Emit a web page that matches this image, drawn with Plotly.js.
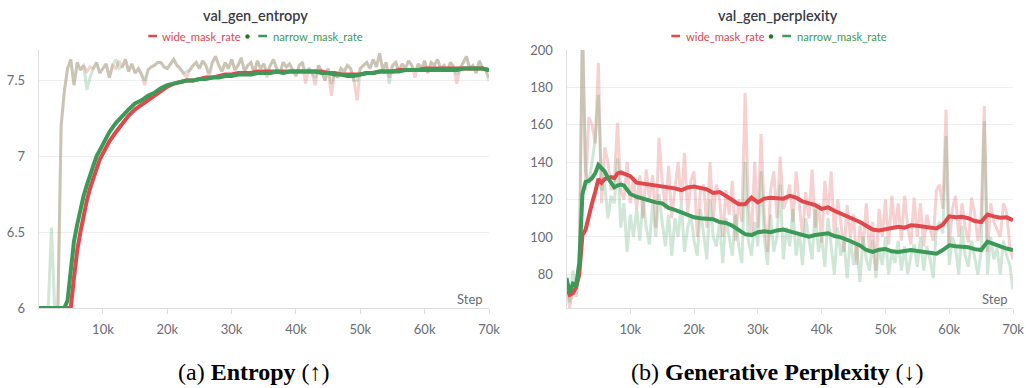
<!DOCTYPE html>
<html>
<head>
<meta charset="utf-8">
<script src="https://cdn.plot.ly/plotly-3.0.1.min.js"></script>
<style>html,body{margin:0;padding:0;background:#fff;}#chart{width:1026px;height:388px;}</style>
</head>
<body>
<div id="chart"></div>
<script>
// ---------- data ----------
// raw evaluation steps: every 500 steps from 0 to 70k
const rawSteps = Array.from({length: 141}, (_, i) => i * 500);
// smoothed curve steps
const smoothSteps = [0,500,1000,1500,2000,2500,3000,3500,4000,4500,5000,5500,6000,6500,7000,7500,8000,8500,9000,9500,10000,
  11000,12000,13000,14000,15000,16000,17000,18000,19000,20000,21000,22000,23000,24000,25000,26000,27000,28000,29000,30000,
  31000,32000,33000,34000,35000,36000,37000,38000,39000,40000,41000,42000,43000,44000,45000,46000,47000,48000,49000,50000,
  51000,52000,53000,54000,55000,56000,57000,58000,59000,60000,61000,62000,63000,64000,65000,66000,67000,68000,69000,70000];

const xTickVals = [10000,20000,30000,40000,50000,60000,70000];
const xTickText = ['10k','20k','30k','40k','50k','60k','70k'];
const entTickVals = [6, 6.5, 7, 7.5];
const entTickText = ['6','6.5','7','7.5'];
const pplTickVals = [80,100,120,140,160,180,200];
const pplTickText = ['80','100','120','140','160','180','200'];

// entropy raw
const entWideRaw = [6,6,6,6,6,6,6,7.2,7.43,7.58,
  7.64,7.47,7.62,7.57,7.60,7.56,7.59,7.58,7.62,7.55,
  7.58,7.61,7.52,7.60,7.58,7.63,7.59,7.64,7.56,7.61,
  7.55,7.58,7.54,7.47,7.57,7.59,7.60,7.62,7.62,7.59,
  7.58,7.61,7.64,7.60,7.58,7.55,7.52,7.57,7.60,7.62,
  7.58,7.63,7.60,7.52,7.62,7.66,7.60,7.56,7.62,7.58,
  7.64,7.57,7.60,7.65,7.56,7.60,7.62,7.55,7.63,7.58,
  7.61,7.52,7.60,7.64,7.58,7.55,7.62,7.59,7.61,7.57,
  7.53,7.60,7.62,7.48,7.58,7.55,7.47,7.60,7.56,7.50,
  7.58,7.40,7.55,7.52,7.58,7.56,7.60,7.58,7.50,7.37,
  7.58,7.60,7.62,7.58,7.64,7.59,7.68,7.57,7.62,7.52,
  7.60,7.62,7.56,7.61,7.58,7.63,7.60,7.52,7.61,7.58,
  7.63,7.55,7.62,7.60,7.64,7.58,7.60,7.56,7.62,7.59,
  7.48,7.58,7.62,7.66,7.58,7.60,7.55,7.63,7.58,7.57,
  7.52];
const entNarrowRaw = [6,6,6,6,6.53,6,6,7.2,7.43,7.58,
  7.64,7.47,7.62,7.57,7.60,7.44,7.52,7.58,7.62,7.55,
  7.58,7.61,7.52,7.60,7.64,7.58,7.59,7.64,7.56,7.61,
  7.55,7.58,7.54,7.50,7.57,7.59,7.60,7.62,7.62,7.59,
  7.58,7.61,7.64,7.60,7.58,7.55,7.56,7.57,7.60,7.62,
  7.58,7.63,7.60,7.55,7.62,7.66,7.60,7.56,7.62,7.58,
  7.64,7.57,7.60,7.65,7.56,7.60,7.62,7.55,7.63,7.58,
  7.61,7.56,7.60,7.64,7.58,7.55,7.62,7.59,7.61,7.57,
  7.53,7.60,7.62,7.56,7.58,7.55,7.52,7.60,7.56,7.50,
  7.58,7.48,7.55,7.52,7.58,7.56,7.60,7.58,7.50,7.50,
  7.58,7.60,7.62,7.58,7.64,7.59,7.68,7.57,7.62,7.48,
  7.60,7.62,7.56,7.61,7.58,7.63,7.60,7.56,7.61,7.58,
  7.63,7.55,7.62,7.60,7.64,7.58,7.60,7.56,7.62,7.59,
  7.54,7.58,7.62,7.66,7.58,7.60,7.55,7.63,7.58,7.57,
  7.50];

// entropy smoothed
const entWideSmooth = [6,6,6,6,6,6,6,6,6,6,6,6.2,6.38,6.50,6.61,6.71,6.79,6.86,6.92,6.98,7.02,
  7.10,7.16,7.22,7.27,7.31,7.34,7.37,7.40,7.43,7.46,
  7.48,7.49,7.50,7.50,7.51,7.52,7.52,7.53,7.54,7.54,
  7.55,7.55,7.55,7.56,7.56,7.56,7.56,7.56,7.56,7.56,
  7.56,7.56,7.56,7.56,7.55,7.55,7.54,7.54,7.54,7.54,
  7.55,7.55,7.56,7.56,7.56,7.57,7.57,7.57,7.57,7.58,
  7.58,7.58,7.58,7.58,7.58,7.58,7.58,7.58,7.58,7.57];
const entNarrowSmooth = [6,6,6,6,6,6,6,6,6,6.05,6.28,6.44,6.55,6.65,6.74,6.81,6.88,6.94,7.00,7.04,7.08,
  7.16,7.22,7.27,7.31,7.35,7.37,7.40,7.42,7.45,7.47,
  7.48,7.49,7.50,7.50,7.51,7.51,7.52,7.52,7.53,7.53,
  7.54,7.54,7.54,7.55,7.55,7.55,7.56,7.55,7.56,7.56,
  7.56,7.56,7.56,7.55,7.55,7.54,7.54,7.53,7.53,7.54,
  7.55,7.55,7.56,7.56,7.56,7.56,7.57,7.57,7.57,7.57,
  7.57,7.57,7.57,7.57,7.57,7.58,7.58,7.58,7.58,7.57];

// perplexity raw
const pplWideRaw = [75,62,72,68,85,215,125,164,160,150,
  193,118,148,140,125,130,161,125,120,140,
  118,132,115,133,110,136,120,133,105,153,
  130,115,138,110,126,140,118,145,112,130,
  135,100,125,128,105,140,110,128,120,100,
  125,112,130,98,120,108,177,118,100,140,
  105,155,112,92,125,135,110,143,115,120,
  128,108,135,118,100,124,110,136,105,118,
  97,130,112,135,100,120,108,92,117,100,
  112,85,106,95,118,92,108,82,115,100,
  120,96,122,104,118,98,122,105,96,121,
  100,118,95,112,104,98,125,128,115,168,
  95,115,122,100,118,105,97,121,112,98,
  110,170,92,118,108,104,100,118,113,95,
  88];
const pplNarrowRaw = [79,65,82,72,82,215,135,128,140,152,
  176,125,128,110,122,118,142,105,118,92,
  112,100,115,98,120,105,96,118,100,123,
  108,95,112,90,110,100,118,92,105,112,
  98,90,115,102,88,120,100,95,108,86,
  110,100,90,112,95,86,140,98,90,108,
  95,135,100,85,112,92,100,128,88,105,
  95,115,90,102,85,110,98,88,115,92,
  100,84,110,95,80,105,90,98,78,100,
  85,95,76,100,88,82,98,78,94,85,
  100,80,92,86,98,82,95,80,90,96,
  84,100,82,95,88,78,105,108,102,154,
  85,100,94,80,106,90,84,98,88,80,
  92,162,80,100,88,94,80,98,90,85,
  72];

// perplexity smoothed
const pplWideSmooth = [73,69,70,73,80,101,104,112,118,124,131,129,131,131.5,132,131.5,134,134.5,133.7,133,132.5,
  129,128.5,128,128,127,126.5,126,125,126.5,127,
  126,125.5,123.5,124,122,119.5,117.5,117.5,121,118.5,
  120.5,121,121,120.5,122,121,119,118,117,115,
  115.8,114,112.5,111.5,110,108,106,104,103.5,104,
  104.5,105.5,105,106.2,106,105.5,105,104.5,106.5,111,
  110.5,110.8,110,108.5,108,112,111,110.3,110.5,109];
const pplNarrowSmooth = [78,70,75,74,86,123,129.5,130,131.5,134,138.5,136.5,135,131.5,128.5,126.5,127.5,128,127.5,125,123,
  121.5,120.5,119,118.5,118,115.5,114.5,113,111.5,110.5,
  110,109.5,109.5,108,107.5,106,103.5,101.5,101,102.5,
  103,102.5,103.5,104,103,102,101,100.2,101,101.5,
  102,100.5,99.8,98.5,97,95.5,93,92,93.2,93.5,
  92.3,92,92.5,93,92.5,92,91.5,91,93,95.5,
  95,94.8,94.5,93.5,93,97.5,96,95,93.8,93];

// ---------- style ----------
const RED = '#e0484b';
const GREEN = '#3b9a58';
const RED_RAW = 'rgba(224,72,75,0.25)';
const GREEN_RAW = 'rgba(59,154,88,0.24)';
const W = 1026, H = 388;
const px = v => v / W;
const py = v => 1 - v / H;

function rawTrace(y, color, xa, ya) {
  return {x: rawSteps, y: y, type: 'scatter', mode: 'lines', xaxis: xa, yaxis: ya,
    line: {color: color, width: 3}, hoverinfo: 'skip', showlegend: false};
}
function smoothTrace(y, color, xa, ya) {
  return {x: smoothSteps, y: y, type: 'scatter', mode: 'lines', xaxis: xa, yaxis: ya,
    line: {color: color, width: 4}, hoverinfo: 'skip', showlegend: false};
}

const data = [
  rawTrace(entWideRaw, RED_RAW, 'x', 'y'),
  rawTrace(entNarrowRaw, GREEN_RAW, 'x', 'y'),
  smoothTrace(entWideSmooth, RED, 'x', 'y'),
  smoothTrace(entNarrowSmooth, GREEN, 'x', 'y'),
  rawTrace(pplWideRaw, RED_RAW, 'x2', 'y2'),
  rawTrace(pplNarrowRaw, GREEN_RAW, 'x2', 'y2'),
  smoothTrace(pplWideSmooth, RED, 'x2', 'y2'),
  smoothTrace(pplNarrowSmooth, GREEN, 'x2', 'y2')
];

const tickFont = {family: 'Lato, "Noto Sans", sans-serif', size: 13, color: '#6b6b76'};
const xCommon = {range: [0, 70000], tickvals: xTickVals, ticktext: xTickText, showgrid: false,
  showline: true, linecolor: '#dedede', linewidth: 1, ticks: 'outside', ticklen: 5, tickcolor: '#dedede',
  tickfont: tickFont, zeroline: false, fixedrange: true, ticklabelstandoff: 4};
const yCommon = {showgrid: true, gridcolor: '#efefef', gridwidth: 1, showline: true, linecolor: '#dedede',
  linewidth: 1, ticks: '', tickfont: tickFont, zeroline: false, fixedrange: true, ticklabelstandoff: 10};

const yDom = [py(308), py(50)];
const layout = {
  width: W, height: H,
  margin: {l: 0, r: 0, t: 0, b: 0},
  paper_bgcolor: '#fff', plot_bgcolor: 'rgba(0,0,0,0)',
  showlegend: false,
  xaxis: Object.assign({}, xCommon, {domain: [px(38.6), px(489)], anchor: 'y'}),
  yaxis: Object.assign({}, yCommon, {domain: yDom, anchor: 'x', range: [6, 7.702], tickvals: entTickVals, ticktext: entTickText}),
  xaxis2: Object.assign({}, xCommon, {domain: [px(566.5), px(1013)], anchor: 'y2'}),
  yaxis2: Object.assign({}, yCommon, {domain: yDom, anchor: 'x2', range: [62, 200], tickvals: pplTickVals, ticktext: pplTickText}),
  annotations: [],
  shapes: []
};

const titleFont = {family: 'Lato, "Noto Sans", sans-serif', size: 14.5, color: '#3a3a44', weight: 600};
const legFont = c => ({family: 'Lato, "Noto Sans", sans-serif', size: 11.2, color: c});
function ann(text, x, y, xanchor, font) {
  layout.annotations.push({text: text, x: px(x), y: py(y), xref: 'paper', yref: 'paper',
    xanchor: xanchor, yanchor: 'middle', showarrow: false, font: font, borderpad: 0});
}
function dash(x0, x1, y, color) {
  layout.shapes.push({type: 'line', xref: 'paper', yref: 'paper', x0: px(x0), x1: px(x1), y0: py(y), y1: py(y),
    line: {color: color, width: 2.5}});
}
function dot(x, y, color) {
  layout.shapes.push({type: 'circle', xref: 'paper', yref: 'paper', x0: px(x - 2.2), x1: px(x + 2.2),
    y0: py(y + 2.2), y1: py(y - 2.2), fillcolor: color, line: {width: 0}});
}

// panel titles
ann('val_gen_entropy', 255.5, 16, 'center', titleFont);
ann('val_gen_perplexity', 778, 16, 'center', titleFont);
// legends
const LY = 36;
dash(148.3, 157, LY, RED); ann('wide_mask_rate', 161, LY, 'left', legFont(RED));
dot(247.5, LY + 0.5, '#1f7a1f');
dash(258.3, 267, LY, GREEN); ann('narrow_mask_rate', 272, LY, 'left', legFont(GREEN));
dash(671.3, 680, LY, RED); ann('wide_mask_rate', 684.5, LY, 'left', legFont(RED));
dot(771, LY + 0.5, '#1f7a1f');
dash(782.3, 791, LY, GREEN); ann('narrow_mask_rate', 795.5, LY, 'left', legFont(GREEN));
// step labels
ann('Step', 484, 298.5, 'right', tickFont);
ann('Step', 1009, 298.5, 'right', tickFont);
// captions
const capFont = {family: '"Liberation Serif", "Times New Roman", serif', size: 24, color: '#000'};
ann('(a) <b>Entropy</b> (↑)', 253.5, 372, 'center', capFont);
ann('(b) <b>Generative Perplexity</b> (↓)', 777.5, 372, 'center', capFont);

Plotly.newPlot('chart', data, layout, {staticPlot: true, displayModeBar: false});
</script>
</body>
</html>
